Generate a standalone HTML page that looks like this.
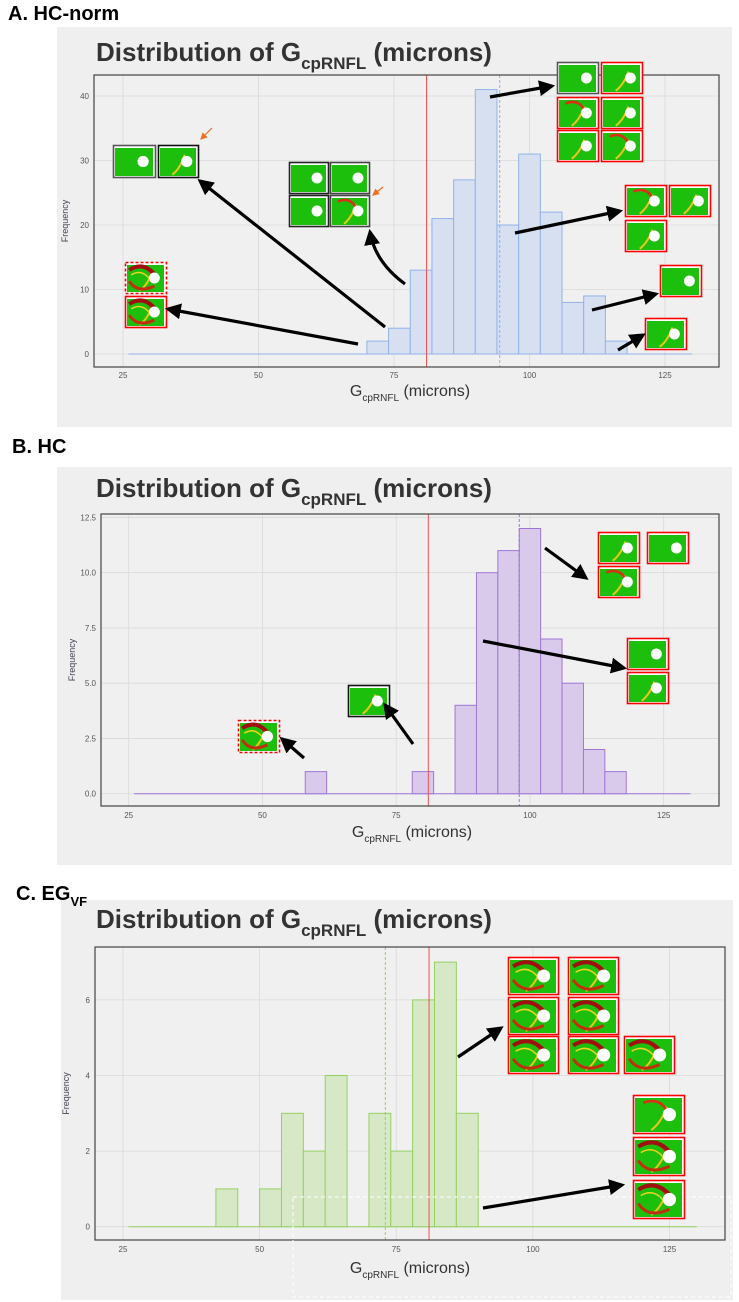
<!DOCTYPE html>
<html><head><meta charset="utf-8">
<style>
html,body{margin:0;padding:0;background:#fff;}
svg{display:block;font-family:"Liberation Sans",Arial,sans-serif;}
</style></head>
<body>
<svg id="fig" width="739" height="1302" viewBox="0 0 739 1302" xmlns="http://www.w3.org/2000/svg">
<g id="static"></g>
</svg>
<script>
// ===== Panel A data (HC-norm) =====
const binStartsA = [70,74,78,82,86,90,94,98,102,106,110,114];
const countsA    = [2,4,13,21,27,41,20,31,22,8,9,2];
const yTicksA    = [0,10,20,30,40];
const yTickLabelsA = ["0","10","20","30","40"];
const xTicks     = [25,50,75,100,125];
const xTickLabels = ["25","50","75","100","125"];
const refLineA = 81, meanLineA = 94.5;

// ===== Panel B data (HC) =====
const binStartsB = [58,78,86,90,94,98,102,106,110,114];
const countsB    = [1,1,4,10,11,12,7,5,2,1];
const yTicksB    = [0,2.5,5,7.5,10,12.5];
const yTickLabelsB = ["0.0","2.5","5.0","7.5","10.0","12.5"];
const refLineB = 81, meanLineB = 98;

// ===== Panel C data (EG_VF) =====
const binStartsC = [42,50,54,58,62,70,74,78,82,86];
const countsC    = [1,1,3,2,4,3,2,6,7,3];
const yTicksC    = [0,2,4,6];
const yTickLabelsC = ["0","2","4","6"];
const refLineC = 81, meanLineC = 73;

const binWidth = 4;
const NS = "http://www.w3.org/2000/svg";
const svg = document.getElementById('fig');

function el(tag, attrs, parent, text){
  const e = document.createElementNS(NS, tag);
  for (const k in attrs) e.setAttribute(k, attrs[k]);
  if (text !== undefined) e.textContent = text;
  (parent||svg).appendChild(e);
  return e;
}

function drawPanel(cfg){
  const g = el('g', {});
  
  
  // panel background
  const bg = el('rect', {x:cfg.panel[0], y:cfg.panel[1], width:cfg.panel[2], height:cfg.panel[3], fill:'#efefef'}, g);
  
  
  // panel label
  const lab = el('text', {x:cfg.labelPos[0], y:cfg.labelPos[1], 'font-size':20, 'font-weight':'bold', fill:'#000'}, g);
  
  
  el('tspan', {}, lab, cfg.label);
  if (cfg.labelSub){ el('tspan', {'font-size':13, dy:6}, lab, cfg.labelSub); }
  // title
  const t = el('text', {x:96, y:cfg.titleY, 'font-size':26, 'font-weight':'bold', fill:'#333'}, g);
  
  
  el('tspan', {}, t, 'Distribution of G');
  el('tspan', {'font-size':17, dy:8}, t, 'cpRNFL');
  el('tspan', {dy:-8}, t, ' (microns)');

  const [bx0, by0, bx1, by1] = cfg.box;
  const xs = v => cfg.x25 + (v-25)*cfg.xScale;
  const ys = v => cfg.y0 - v*cfg.yScale;
  const plot = el('rect', {x:bx0, y:by0, width:bx1-bx0, height:by1-by0, fill:'#f0f0f0'}, g);
  
  
  // grid
  xTicks.forEach((v,i)=>{
    const l = el('line', {x1:xs(v), x2:xs(v), y1:by0, y2:by1, stroke:'#dadada', 'stroke-width':0.8}, g);
    
    
    const tl = el('text', {x:xs(v), y:cfg.xTickY, 'font-size':8, fill:'#555', 'text-anchor':'middle'}, g, xTickLabels[i]);
    
    
  });
  cfg.yTicks.forEach((v,i)=>{
    const l = el('line', {x1:bx0, x2:bx1, y1:ys(v), y2:ys(v), stroke:'#dadada', 'stroke-width':0.8}, g);
    
    
    const tl = el('text', {x:bx0-5, y:ys(v)+3, 'font-size':8, fill:'#555', 'text-anchor':'end'}, g, cfg.yLabels[i]);
    
    
  });
  // baseline
  const base = el('line', {x1:xs(26), x2:xs(130), y1:ys(0), y2:ys(0), stroke:cfg.stroke, 'stroke-width':1}, g);
  
  
  // bars
  cfg.bins.forEach((b,i)=>{
    const c = cfg.counts[i];
    const r = el('rect', {x:xs(b), y:ys(c), width:xs(b+binWidth)-xs(b), height:ys(0)-ys(c), fill:cfg.fill, stroke:cfg.stroke, 'stroke-width':1}, g);
    
    
  });
  // ref lines
  const rl = el('line', {x1:xs(cfg.ref), x2:xs(cfg.ref), y1:by0, y2:by1, stroke:'#f05050', 'stroke-width':1}, g);
  
  
  const ml = el('line', {x1:xs(cfg.mean), x2:xs(cfg.mean), y1:by0, y2:by1, stroke:cfg.stroke, 'stroke-width':1, 'stroke-dasharray':'3,2'}, g);
  
  
  // border
  const bd = el('rect', {x:bx0, y:by0, width:bx1-bx0, height:by1-by0, fill:'none', stroke:'#444', 'stroke-width':1.2}, g);
  
  
  // axis titles
  const yt = el('text', {x:0, y:0, 'font-size':9, fill:'#445', 'text-anchor':'middle', transform:`translate(${bx0-26},${(by0+by1)/2}) rotate(-90)`}, g, 'Frequency');
  
  
  const xt = el('text', {x:cfg.xTitle[0], y:cfg.xTitle[1], 'font-size':16, fill:'#333', 'text-anchor':'middle'}, g);
  
  
  el('tspan', {}, xt, 'G');
  el('tspan', {'font-size':10, dy:5}, xt, 'cpRNFL');
  el('tspan', {dy:-5}, xt, ' (microns)');
  return g;
}

drawPanel({name:'panel-a-hc-norm', panel:[57,27,675,400], label:'A. HC-norm', labelPos:[8,20], titleY:61,
  box:[94,75,719,367], x25:123, xScale:5.42, y0:354, yScale:6.45, yTicks:yTicksA, yLabels:yTickLabelsA,
  bins:binStartsA, counts:countsA, fill:'#d6e0f1', stroke:'#92b2ea', ref:refLineA, mean:meanLineA,
  xTickY:378, xTitle:[410,396]});
drawPanel({name:'panel-b-hc', panel:[57,467,675,398], label:'B. HC', labelPos:[12,453], titleY:497,
  box:[101,514,719,806], x25:128.7, xScale:5.35, y0:793.7, yScale:22.1, yTicks:yTicksB, yLabels:yTickLabelsB,
  bins:binStartsB, counts:countsB, fill:'#d9caec', stroke:'#9f76d8', ref:refLineB, mean:meanLineB,
  xTickY:818, xTitle:[412,837]});
drawPanel({name:'panel-c-eg-vf', panel:[61,900,672,400], label:'C. EG', labelSub:'VF', labelPos:[16,900], titleY:928,
  box:[95,947,725,1240], x25:123, xScale:5.465, y0:1226.7, yScale:37.8, yTicks:yTicksC, yLabels:yTickLabelsC,
  bins:binStartsC, counts:countsC, fill:'#d6e8c6', stroke:'#95d063', ref:refLineC, mean:meanLineC,
  xTickY:1252, xTitle:[410,1273]});

// dashed box bottom of C
const db = el('rect', {x:293, y:1197, width:438, height:100, fill:'none', stroke:'#fff', 'stroke-width':1, 'stroke-dasharray':'4,3'});



// ===== Thumbnails (visual field maps) =====
// [x, y, w, h, borderColor, dashed, variant]
const thumbs = [
  [557,62,42,32,'#555',0,0],[601,62,42,32,'#f00',0,1],[557,97,42,32,'#f00',0,2],[601,97,42,32,'#f00',0,1],
  [557,130,42,32,'#f00',0,1],[601,130,42,32,'#f00',0,2],
  [113,145,43,33,'#555',0,0],[158,145,41,33,'#111',0,1],
  [289,162,40,32,'#222',0,0],[330,162,40,32,'#444',0,0],[289,195,40,32,'#222',0,0],[330,195,40,32,'#444',0,2],
  [625,185,42,32,'#f00',0,2],[669,185,42,32,'#f00',0,1],[625,220,42,32,'#f00',0,1],
  [660,265,42,32,'#f00',0,0],[645,318,42,32,'#f00',0,1],
  [125,262,42,32,'#f00',1,3],[125,296,42,32,'#f00',0,3],
  [598,532,42,32,'#f00',0,1],[647,532,42,32,'#f00',0,0],[598,566,42,32,'#f00',0,2],
  [627,638,42,32,'#f00',0,0],[627,672,42,32,'#f00',0,1],
  [348,685,42,32,'#111',0,1],[238,720,42,33,'#f00',1,3],
  [508,957,51,38,'#f00',0,3],[568,957,51,38,'#f00',0,3],[508,997,51,38,'#f00',0,3],[568,997,51,38,'#f00',0,3],
  [508,1036,51,38,'#f00',0,3],[568,1036,51,38,'#f00',0,3],[624,1036,51,38,'#f00',0,3],
  [633,1095,52,39,'#f00',0,2],[633,1137,52,39,'#f00',0,3],[633,1180,52,39,'#f00',0,3]
];
thumbs.forEach(t=>{
  const [x,y,w,h,c,d,v] = t;
  const g = el('g', {});
  
  
  el('rect', {x:x, y:y, width:w, height:h, fill:'#fff'}, g);
  el('rect', {x:x+2, y:y+3, width:w-5, height:h-5, fill:'#1cbf0c'}, g);
  if (v>=1) el('path', {d:`M${x+w*0.35} ${y+h*0.9} Q${x+w*0.55} ${y+h*0.7} ${x+w*0.65} ${y+h*0.3}`, stroke:'#e8c81a', 'stroke-width':2, fill:'none'}, g);
  if (v>=2) el('path', {d:`M${x+w*0.2} ${y+h*0.2} Q${x+w*0.5} ${y+h*0.05} ${x+w*0.65} ${y+h*0.4}`, stroke:'#d9301a', 'stroke-width':2.5, fill:'none'}, g);
  if (v>=3){
    el('path', {d:`M${x+w*0.1} ${y+h*0.25} Q${x+w*0.45} ${y-h*0.05} ${x+w*0.75} ${y+h*0.45}`, stroke:'#a01010', 'stroke-width':4, fill:'none'}, g);
    el('path', {d:`M${x+w*0.1} ${y+h*0.6} Q${x+w*0.3} ${y+h*1.0} ${x+w*0.7} ${y+h*0.75}`, stroke:'#c03010', 'stroke-width':3, fill:'none'}, g);
    el('path', {d:`M${x+w*0.15} ${y+h*0.4} Q${x+w*0.4} ${y+h*0.2} ${x+w*0.6} ${y+h*0.55}`, stroke:'#f0d020', 'stroke-width':1.5, fill:'none'}, g);
  }
  el('circle', {cx:x+w*0.7, cy:y+h*0.5, r:Math.min(w,h)*0.17, fill:'#fff'}, g);
  el('rect', {x:x+0.5, y:y+0.5, width:w-1, height:h-1, fill:'none', stroke:c, 'stroke-width':1.6, 'stroke-dasharray': d? '3,2':'none'}, g);
});

// ===== Arrows =====
el('defs', {}).innerHTML = '<marker id="ah" markerWidth="5" markerHeight="5" refX="4" refY="2.5" orient="auto" markerUnits="strokeWidth"><path d="M0,0 L5,2.5 L0,5 z" fill="#000"/></marker><marker id="ao" markerWidth="6" markerHeight="6" refX="5" refY="3" orient="auto" markerUnits="strokeWidth"><path d="M0,0 L6,3 L0,6 z" fill="#f07020"/></marker>';
const arrows = [
  'M490 97 L552 86','M385 327 L200 181','M358 344 L168 309','M405 284 Q375 262 370 232',
  'M515 233 L620 211','M592 310 L656 294','M618 350 L643 335',
  'M545 548 L586 578','M483 641 L624 668','M413 744 L385 705','M304 758 L282 739',
  'M458 1057 L501 1028','M483 1208 L622 1185'
];
arrows.forEach(d=>{
  const a = el('path', {d:d, stroke:'#000', 'stroke-width':3.2, fill:'none', 'marker-end':'url(#ah)'});
  
  
});
['M212 128 L201 139','M383 187 L373 195'].forEach(d=>{
  const a = el('path', {d:d, stroke:'#f07020', 'stroke-width':1.2, fill:'none', 'marker-end':'url(#ao)'});
  
  
});
</script>
</body></html>
